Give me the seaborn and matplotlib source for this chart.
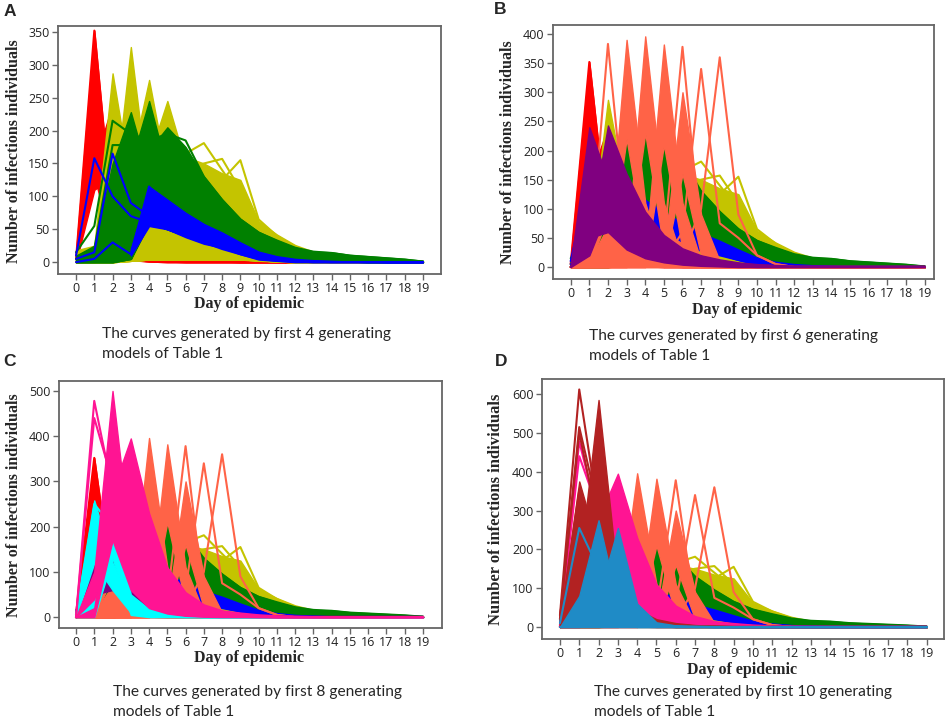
import numpy as np
import pandas as pd
import matplotlib
matplotlib.use('Agg')
import matplotlib.pyplot as plt
import seaborn as sns

days = list(range(20))
nan = np.nan

# each model: bands (lower curve, upper curve) for the dense mass of curves, plus single curves
red_bands = [
    ([0, 130, 25, 3, 1, 0, 0, 0, 0, 0, 0, 0, 0, 0, 0, 0, 0, 0, 0, 0],
     [15, 352, 60, 12, 4, 2, 1, 1, 1, 0, 0, 0, 0, 0, 0, 0, 0, 0, 0, 0]),
    ([0, 110, 130, 5, 1, 0, 0, 0, 0, 0, 0, 0, 0, 0, 0, 0, 0, 0, 0, 0],
     [5, 150, 240, 8, 3, 1, 0, 0, 0, 0, 0, 0, 0, 0, 0, 0, 0, 0, 0, 0]),
]
red_lines = [
    [5, 352, 60, 12, 4, 2, 1, 1, 1, 0, 0, 0, 0, 0, 0, 0, 0, 0, 0, 0],
    [0, 0, 2, 3, 1, 1, 1, 1, 1, 1, 1, 0, 0, 0, 0, 0, 0, 0, 0, 0],
]

yellow_floor = [0, 0, 0, 2, 4, 4, 4, 4, 4, 4, 3, 1, 0, 0, 0, 0, 0, 0, 0, 0]
yellow_bands = [
    (yellow_floor, [18, 25, 287, 120, 60, 30, 15, 10, 6, 4, 2, 1, 0, 0, 0, 0, 0, 0, 0, 0]),
    (yellow_floor, [0, 10, 80, 327, 100, 60, 40, 25, 15, 10, 5, 2, 0, 0, 0, 0, 0, 0, 0, 0]),
    (yellow_floor, [0, 5, 30, 150, 277, 130, 70, 40, 25, 15, 8, 4, 2, 0, 0, 0, 0, 0, 0, 0]),
    (yellow_floor, [0, 0, 15, 80, 160, 245, 150, 100, 70, 45, 20, 10, 5, 2, 0, 0, 0, 0, 0, 0]),
    (yellow_floor, [0, 0, 10, 50, 120, 170, 160, 150, 135, 125, 62, 42, 26, 16, 10, 7, 5, 3, 2, 0]),
]
yellow_lines = [
    [0, 3, 40, 150, 200, 175, 165, 181, 140, 100, 55, 35, 20, 12, 8, 5, 3, 2, 1, 0],
    [0, 3, 30, 120, 180, 160, 140, 150, 157, 110, 50, 30, 20, 12, 8, 5, 3, 2, 1, 0],
    [0, 3, 30, 110, 170, 150, 140, 130, 125, 155, 65, 40, 22, 12, 8, 5, 3, 2, 1, 0],
]

green_floor = [0, 0, 0, 5, 60, 50, 40, 30, 22, 15, 8, 5, 3, 2, 1, 1, 0, 0, 0, 0]
green_bands = [
    (green_floor, [10, 25, 150, 228, 130, 90, 70, 55, 45, 35, 25, 18, 12, 8, 6, 5, 4, 3, 2, 1]),
    (green_floor, [5, 10, 60, 150, 245, 140, 110, 90, 70, 55, 40, 30, 20, 15, 13, 10, 8, 6, 4, 1]),
    (green_floor, [0, 5, 30, 100, 170, 205, 175, 130, 95, 66, 46, 33, 22, 16, 15, 11, 9, 7, 5, 2]),
]
green_lines = [
    [15, 55, 215, 195, 185, 195, 185, 130, 95, 65, 45, 33, 22, 16, 14, 10, 8, 6, 4, 1],
    [5, 20, 178, 178, 150, 120, 100, 80, 60, 45, 30, 20, 12, 8, 6, 5, 4, 3, 2, 1],
]

blue_bands = [
    ([nan, nan, nan, 10, 55, 50, 38, 28, 22, 12, 4, 2, 0, 0, 0, 0, 0, 0, 0, 0],
     [nan, nan, nan, 20, 115, 95, 75, 58, 45, 30, 16, 9, 5, 3, 2, 1, 1, 0, 0, 0]),
]
blue_lines = [
    [10, 158, 100, 70, 60, 50, 40, 30, 22, 15, 8, 4, 2, 1, 0, 0, 0, 0, 0, 0],
    [5, 15, 165, 90, 70, 55, 40, 30, 20, 12, 5, 2, 1, 0, 0, 0, 0, 0, 0, 0],
    [0, 5, 30, 12, 115, 75, 55, 42, 30, 18, 8, 3, 1, 0, 0, 0, 0, 0, 0, 0],
]

zeros = [0] * 20
coral_bands = [
    (zeros, [0, 10, 70, 70, 70, 60, 40, 15, 5, 0, 0, 0, 0, 0, 0, 0, 0, 0, 0, 0]),
    ([0, 0, 90, 20, 0, 0, 0, 0, 0, 0, 0, 0, 0, 0, 0, 0, 0, 0, 0, 0],
     [0, 20, 230, 80, 10, 0, 0, 0, 0, 0, 0, 0, 0, 0, 0, 0, 0, 0, 0, 0]),
    ([0, 0, 0, 220, 30, 0, 0, 0, 0, 0, 0, 0, 0, 0, 0, 0, 0, 0, 0, 0],
     [0, 0, 20, 390, 110, 10, 0, 0, 0, 0, 0, 0, 0, 0, 0, 0, 0, 0, 0, 0]),
    ([0, 0, 0, 0, 230, 30, 0, 0, 0, 0, 0, 0, 0, 0, 0, 0, 0, 0, 0, 0],
     [0, 0, 0, 20, 396, 110, 10, 0, 0, 0, 0, 0, 0, 0, 0, 0, 0, 0, 0, 0]),
    ([0, 0, 0, 0, 0, 210, 30, 0, 0, 0, 0, 0, 0, 0, 0, 0, 0, 0, 0, 0],
     [0, 0, 0, 0, 20, 382, 110, 10, 0, 0, 0, 0, 0, 0, 0, 0, 0, 0, 0, 0]),
    ([0, 0, 0, 0, 0, 0, 160, 20, 0, 0, 0, 0, 0, 0, 0, 0, 0, 0, 0, 0],
     [0, 0, 0, 0, 0, 20, 300, 90, 10, 0, 0, 0, 0, 0, 0, 0, 0, 0, 0, 0]),
]
coral_lines = [
    [0, 0, 383, 60, 10, 3, 0, 0, 0, 0, 0, 0, 0, 0, 0, 0, 0, 0, 0, 0],
    [0, 0, 0, 0, 0, 40, 378, 40, 10, 3, 0, 0, 0, 0, 0, 0, 0, 0, 0, 0],
    [0, 0, 0, 0, 0, 10, 60, 340, 75, 50, 20, 5, 0, 0, 0, 0, 0, 0, 0, 0],
    [0, 0, 0, 0, 0, 5, 20, 100, 360, 90, 20, 5, 0, 0, 0, 0, 0, 0, 0, 0],
]

purple_bands = [
    ([0, 50, 60, 30, 15, 8, 4, 2, 1, 0, 0, 0, 0, 0, 0, 0, 0, 0, 0, 0],
     [5, 240, 150, 80, 45, 25, 15, 10, 6, 4, 3, 2, 1, 1, 1, 1, 1, 1, 1, 1]),
    ([0, 20, 100, 60, 30, 15, 8, 4, 2, 1, 0, 0, 0, 0, 0, 0, 0, 0, 0, 0],
     [0, 60, 243, 160, 95, 55, 32, 20, 13, 8, 5, 3, 2, 1, 1, 1, 1, 1, 1, 1]),
]
purple_lines = [
    [0, 40, 110, 80, 60, 45, 20, 18, 8, 5, 3, 2, 1, 1, 1, 1, 1, 1, 1, 1],
]

cyan_bands = [
    ([0, 120, 60, 10, 3, 1, 0, 0, 0, 0, 0, 0, 0, 0, 0, 0, 0, 0, 0, 0],
     [10, 258, 120, 40, 15, 5, 2, 0, 0, 0, 0, 0, 0, 0, 0, 0, 0, 0, 0, 0]),
    ([0, 0, 130, 5, 0, 0, 0, 0, 0, 0, 0, 0, 0, 0, 0, 0, 0, 0, 0, 0],
     [0, 40, 240, 50, 18, 9, 4, 1, 0, 0, 0, 0, 0, 0, 0, 0, 0, 0, 0, 0]),
]
cyan_lines = [
    [5, 250, 200, 100, 40, 15, 5, 2, 0, 0, 0, 0, 0, 0, 0, 0, 0, 0, 0, 0],
]

pink_bands = [
    ([0, 40, 170, 60, 20, 8, 3, 1, 0, 0, 0, 0, 0, 0, 0, 0, 0, 0, 0, 0],
     [0, 100, 500, 150, 60, 30, 15, 8, 4, 2, 1, 0, 0, 0, 0, 0, 0, 0, 0, 0]),
    ([0, 0, 170, 140, 30, 10, 4, 2, 1, 1, 0, 0, 0, 0, 0, 0, 0, 0, 0, 0],
     [0, 20, 280, 395, 230, 110, 55, 28, 15, 10, 6, 4, 3, 2, 2, 2, 2, 2, 2, 2]),
]
pink_lines = [
    [0, 478, 280, 120, 60, 30, 15, 8, 4, 2, 1, 0, 0, 0, 0, 0, 0, 0, 0, 0],
    [0, 440, 300, 150, 70, 35, 18, 9, 5, 2, 1, 0, 0, 0, 0, 0, 0, 0, 0, 0],
]

firebrick_bands = [
    ([0, 40, 100, 20, 5, 2, 0, 0, 0, 0, 0, 0, 0, 0, 0, 0, 0, 0, 0, 0],
     [20, 375, 200, 80, 30, 12, 6, 3, 1, 0, 0, 0, 0, 0, 0, 0, 0, 0, 0, 0]),
    ([0, 0, 150, 20, 5, 2, 0, 0, 0, 0, 0, 0, 0, 0, 0, 0, 0, 0, 0, 0],
     [10, 150, 585, 120, 45, 20, 10, 5, 2, 1, 0, 0, 0, 0, 0, 0, 0, 0, 0, 0]),
]
firebrick_lines = [
    [30, 612, 290, 90, 30, 12, 5, 2, 1, 0, 0, 0, 0, 0, 0, 0, 0, 0, 0, 0],
    [20, 515, 300, 90, 30, 12, 5, 2, 1, 0, 0, 0, 0, 0, 0, 0, 0, 0, 0, 0],
    [20, 500, 260, 80, 25, 10, 4, 2, 1, 0, 0, 0, 0, 0, 0, 0, 0, 0, 0, 0],
]

steel_bands = [
    (zeros, [0, 80, 275, 60, 20, 8, 3, 1, 0, 0, 0, 0, 0, 0, 0, 0, 0, 0, 0, 0]),
    (zeros, [0, 10, 80, 255, 60, 12, 4, 1, 0, 0, 0, 0, 0, 0, 0, 0, 0, 0, 0, 0]),
]
steel_lines = [
    [10, 255, 150, 60, 20, 5, 2, 1, 0, 0, 0, 0, 0, 0, 0, 0, 0, 0, 0, 0],
    [0, 0, 0, 0, 0, 0, 0, 0, 0, 0, 0, 0, 0, 0, 0, 0, 0, 0, 0, 0],
]

models = [
    ('#ff0000', red_bands, red_lines),
    ('#c4c400', yellow_bands, yellow_lines),
    ('#008000', green_bands, green_lines),
    ('#0000ff', blue_bands, blue_lines),
    ('#ff6347', coral_bands, coral_lines),
    ('#800080', purple_bands, purple_lines),
    ('#00ffff', cyan_bands, cyan_lines),
    ('#ff1493', pink_bands, pink_lines),
    ('#b22222', firebrick_bands, firebrick_lines),
    ('#1f8bc6', steel_bands, steel_lines),
]

panel_letters = ['A', 'B', 'C', 'D']
panel_models = [4, 6, 8, 10]
panel_yticks = [range(0, 351, 50), range(0, 401, 50), range(0, 501, 100), range(0, 601, 100)]

sns.set_style('white')
plt.rcParams['font.family'] = ['Open Sans', 'DejaVu Sans']

W, H = 948, 719
fig = plt.figure(figsize=(W / 100, H / 100), dpi=100)


def px_rect(l, r, t, b):
    return [l / W, 1 - b / H, (r - l) / W, (b - t) / H]


def ftext(x, y, s, **kw):
    fig.text(x / W, 1 - y / H, s, **kw)


# layout in pixels: frame (left, right, top, bottom), xlim, ylim
frames = [(58, 441, 26, 274), (553, 934, 25, 279), (59, 442, 381, 628), (542, 944, 379, 639)]
xlims = [(-0.99, 19.99), (-0.95, 19.5), (-0.93, 20.04), (-0.93, 19.9)]
ylims = [(-18, 359), (-20.6, 415.5), (-24, 522), (-31, 639)]
letter_pos = [(10, 11), (500, 10), (9, 362), (501, 362)]
xlabel_pos = [(249, 304), (747, 310), (249, 658), (742, 670)]
ylabel_pos = [(14, 151), (508, 152), (14, 505), (496, 509)]
caption_pos = [(102, 334), (589, 336), (113, 692), (594, 692)]


def draw_model(ax, color, bands, lines, z):
    # the mass of curves first, then the single curves of the same model
    for lo, hi in bands:
        lo = np.array(lo, float)
        hi = np.array(hi, float)
        ok = ~np.isnan(hi)
        ax.fill_between(days, np.nan_to_num(lo), np.nan_to_num(hi), where=ok,
                        color=color, lw=1.0, zorder=z)
    rows = [(i, d, v) for i, c in enumerate(lines) for d, v in zip(days, c)]
    df = pd.DataFrame(rows, columns=['curve', 'day', 'count'])
    sns.lineplot(data=df, x='day', y='count', units='curve', estimator=None,
                 color=color, lw=1.5, ax=ax, legend=False, zorder=z + 0.5)


for k in range(4):
    ax = fig.add_axes(px_rect(*frames[k]))
    for m, (color, bands, lines) in enumerate(models[:panel_models[k]]):
        draw_model(ax, color, bands, lines, 2 + m)
    ax.set_xlim(*xlims[k])
    ax.set_ylim(*ylims[k])
    ax.set_xticks(days)
    ax.set_yticks(list(panel_yticks[k]))
    ax.set_xlabel('')
    ax.set_ylabel('')
    ax.tick_params(direction='out', length=4, width=1, color='#666666',
                   labelsize=9, labelcolor='#222222', pad=2,
                   bottom=True, left=True)
    for sp in ax.spines.values():
        sp.set_visible(True)
        sp.set_color('#666666')
        sp.set_linewidth(1.3)
        sp.set_zorder(30)

    lx, ly = letter_pos[k]
    ftext(lx, ly, panel_letters[k], ha='center', va='center', fontsize=12.5,
          fontweight='bold', family='Liberation Sans')
    xx, xy = xlabel_pos[k]
    ftext(xx, xy, 'Day of epidemic', ha='center', va='center', fontsize=11.5,
          fontweight='bold', family='Liberation Serif')
    yx, yy = ylabel_pos[k]
    ftext(yx, yy, 'Number of infections individuals', ha='center', va='center',
          rotation=90, fontsize=11.5 if k < 3 else 12, fontweight='bold',
          family='Liberation Serif')
    cx, cy = caption_pos[k]
    ftext(cx, cy, 'The curves generated by first %d generating' % panel_models[k],
          ha='left', va='center', fontsize=11.2, family='Lato')
    ftext(cx, cy + 20, 'models of Table 1', ha='left', va='center', fontsize=11.2,
          family='Lato')

fig.savefig('out.png', dpi=100)
